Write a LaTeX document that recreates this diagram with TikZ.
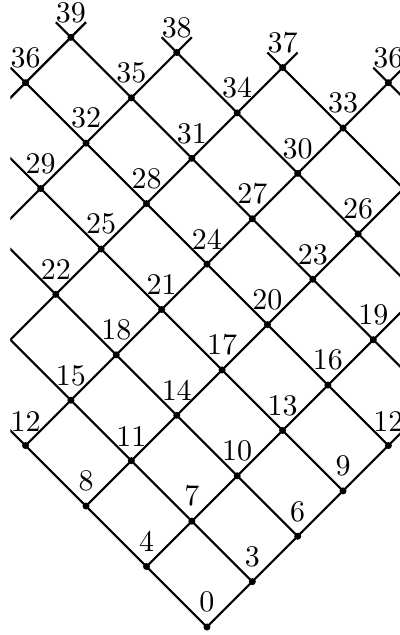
\documentclass[tikz,border=0pt]{standalone}
\begin{document}
\begin{tikzpicture}[x=0.25cm,y=0.25cm,
  edge/.style={line width=1pt},
  dotnode/.style={circle,fill=black,inner sep=0pt,minimum size=3.3pt},
  every label/.style={scale=1.41}]
\useasboundingbox (-13.69,-0.53) rectangle (12.76,41.47);
% lattice positions: (i,j) -> (3i-4j, 3i+4j)
\foreach \i in {0,...,13}{
  \foreach \j in {0,...,9}{
    \pgfmathtruncatemacro\n{3*\i+4*\j}
    \ifnum\n<40
      \coordinate (p-\i-\j) at ({3*\i-4*\j},\n);
    \fi
  }
}
\begin{scope}
\clip (-13,-1) rectangle (13,41.47);
\foreach \i in {0,...,13}{
  \foreach \j in {0,...,9}{
    \pgfmathtruncatemacro\n{3*\i+4*\j}
    \pgfmathtruncatemacro\ii{\i+1}
    \pgfmathtruncatemacro\jj{\j+1}
    \ifnum\n<40
      \ifnum\n<37
        \draw[edge] (p-\i-\j) -- (p-\ii-\j);
      \else
        \draw[edge] (p-\i-\j) -- ++(1,1);
      \fi
      \ifnum\n<36
        \draw[edge] (p-\i-\j) -- (p-\i-\jj);
      \else
        \draw[edge] (p-\i-\j) -- ++(-1,1);
      \fi
    \fi
  }
}
\end{scope}
\foreach \i in {0,...,13}{
  \foreach \j in {0,...,9}{
    \pgfmathtruncatemacro\n{3*\i+4*\j}
    \pgfmathtruncatemacro\k{3*\i-4*\j}
    \ifnum\n<40
      \ifnum\k<13
        \ifnum\k>-13
          \node[dotnode,label=above:\n] (d-\i-\j) at (p-\i-\j) {};
        \fi
      \fi
    \fi
  }
}
\end{tikzpicture}
\end{document}
